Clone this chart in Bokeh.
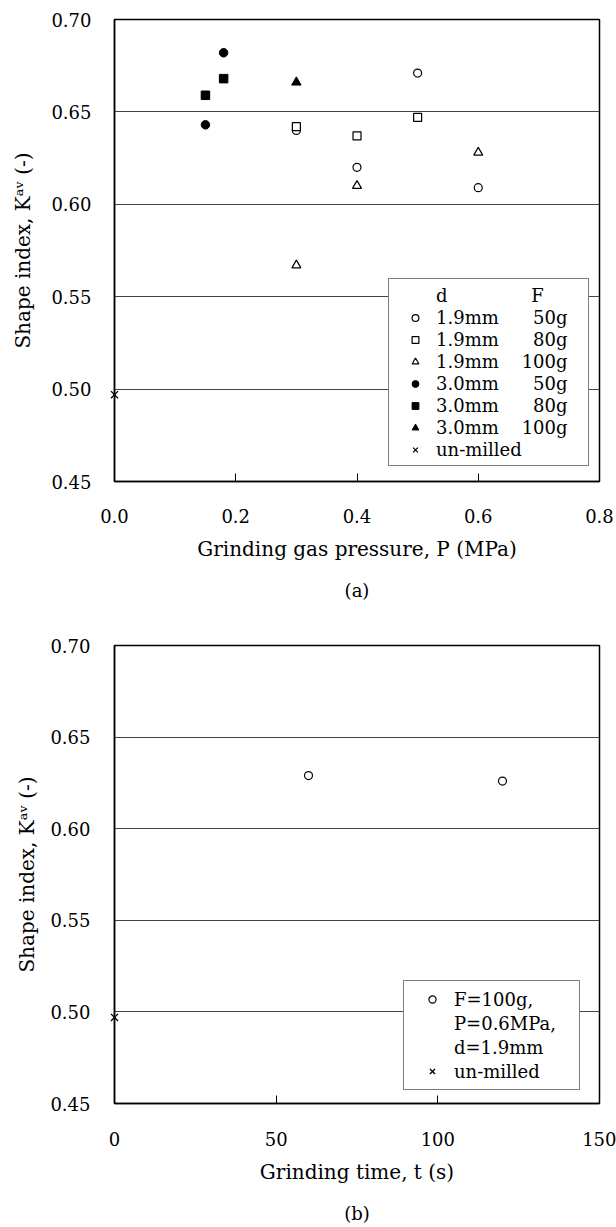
from bokeh.plotting import figure
from bokeh.models import FixedTicker, Legend, LegendItem, Title, Range1d
from bokeh.layouts import column
from bokeh.embed import file_html
from bokeh.resources import INLINE

FONT = "DejaVu Serif"
NB = "\u00a0"
FS = "\u2007"
TAIL = NB * 2 + "\u2009"

# ---------------- data (a) ----------------
p_19_50 = [0.3, 0.4, 0.5, 0.6]
k_19_50 = [0.640, 0.620, 0.671, 0.609]
p_19_80 = [0.3, 0.4, 0.5]
k_19_80 = [0.642, 0.637, 0.647]
p_19_100 = [0.3, 0.4, 0.6]
k_19_100 = [0.567, 0.610, 0.628]
p_30_50 = [0.15, 0.18]
k_30_50 = [0.643, 0.682]
p_30_80 = [0.15, 0.18]
k_30_80 = [0.659, 0.668]
p_30_100 = [0.30]
k_30_100 = [0.666]
p_unmilled = [0.0]
k_unmilled = [0.497]

# ---------------- data (b) ----------------
t_milled = [60, 120]
k_milled = [0.629, 0.626]
t_unmilled = [0]
k_unmilled_b = [0.497]

y_ticks = [0.45, 0.50, 0.55, 0.60, 0.65, 0.70]
y_tick_labels = ["0.45", "0.50", "0.55", "0.60", "0.65", "0.70"]
xa_ticks = [0.0, 0.2, 0.4, 0.6, 0.8]
xa_tick_labels = ["0.0", "0.2", "0.4", "0.6", "0.8"]
xb_ticks = [0, 50, 100, 150]
xb_tick_labels = ["0", "50", "100", "150"]

legend_a_labels = [
    "d" + NB * 14 + "\u2009" + "F" + TAIL,
    "1.9mm" + NB * 4 + FS + "50g" + TAIL,
    "1.9mm" + NB * 4 + FS + "80g" + TAIL,
    "1.9mm" + NB * 4 + "100g" + TAIL,
    "3.0mm" + NB * 4 + FS + "50g" + TAIL,
    "3.0mm" + NB * 4 + FS + "80g" + TAIL,
    "3.0mm" + NB * 4 + "100g" + TAIL,
    "un-milled" + TAIL,
]
legend_b_labels = ["F=100g,", "P=0.6MPa," + NB * 3, "d=1.9mm", "un-milled"]


def style(p, xticks, xlabels, xlabel, ylabel_standoff, xlabel_standoff, ytick_standoff):
    p.background_fill_color = "white"
    p.border_fill_color = "white"
    p.outline_line_color = "black"
    p.outline_line_width = 1.5
    p.xgrid.visible = False
    p.ygrid.ticker = FixedTicker(ticks=y_ticks)
    p.ygrid.grid_line_color = "#444444"
    p.ygrid.grid_line_width = 1
    for ax in (p.xaxis[0], p.yaxis[0]):
        ax.axis_line_color = "black"
        ax.axis_line_width = 1.5
        ax.major_label_text_font = FONT
        ax.major_label_text_font_size = "18px"
        ax.major_label_text_color = "black"
        ax.axis_label_text_font = FONT
        ax.axis_label_text_font_size = "20px"
        ax.axis_label_text_font_style = "normal"
        ax.axis_label_text_color = "black"
        ax.minor_tick_line_color = None
    xa = p.xaxis[0]
    xa.ticker = FixedTicker(ticks=xticks)
    xa.major_label_overrides = {t: l for t, l in zip(xticks, xlabels)}
    xa.major_tick_in = 8
    xa.major_tick_out = 0
    xa.major_tick_line_color = "black"
    xa.major_tick_line_width = 1
    xa.major_label_standoff = xlabel_standoff
    xa.axis_label = xlabel
    xa.axis_label_standoff = 11
    ya = p.yaxis[0]
    ya.ticker = FixedTicker(ticks=y_ticks)
    ya.major_label_overrides = {t: l for t, l in zip(y_ticks, y_tick_labels)}
    ya.major_tick_in = 0
    ya.major_tick_out = 0
    ya.major_label_standoff = ytick_standoff
    ya.axis_label = "Shape index, K\u1d43\u1d5b (-)"
    ya.axis_label_standoff = ylabel_standoff


# ---------------- figure (a) ----------------
pa = figure(frame_width=485, frame_height=462, min_border_left=111, min_border_right=20,
            min_border_top=19, min_border_bottom=124,
            x_range=Range1d(0, 0.8), y_range=Range1d(0.45, 0.70),
            output_backend="svg", toolbar_location=None)
style(pa, xa_ticks, xa_tick_labels, "Grinding gas pressure, P (MPa)", 13, 27, 23)

hdr = pa.scatter(x=[], y=[], marker="circle", size=0, fill_alpha=0, line_alpha=0)
r1 = pa.scatter(p_19_50, k_19_50, marker="circle", size=8, fill_color="white", line_color="black", line_width=1.2)
r2 = pa.scatter(p_19_80, k_19_80, marker="square", size=8, fill_color="white", line_color="black", line_width=1.2)
r3 = pa.scatter(p_19_100, k_19_100, marker="triangle", size=9, fill_color="white", line_color="black", line_width=1.2)
r4 = pa.scatter(p_30_50, k_30_50, marker="circle", size=8.5, fill_color="black", line_color="black")
r5 = pa.scatter(p_30_80, k_30_80, marker="square", size=8.5, fill_color="black", line_color="black")
r6 = pa.scatter(p_30_100, k_30_100, marker="triangle", size=9.5, fill_color="black", line_color="black")
r7 = pa.scatter(p_unmilled, k_unmilled, marker="x", size=10, line_color="black", line_width=1.3,
                level="overlay")

leg_a = Legend(items=[LegendItem(label=l, renderers=[r]) for l, r in
                      zip(legend_a_labels, [hdr, r1, r2, r3, r4, r5, r6, r7])],
               location=(274, 15), padding=5, spacing=0, label_height=22,
               glyph_height=17, glyph_width=42, label_standoff=0,
               label_text_font=FONT, label_text_font_size="18px", label_text_color="black",
               border_line_color="black", border_line_width=1, background_fill_alpha=1,
               margin=0)
pa.add_layout(leg_a)
pa.add_layout(Title(text="(a)", align="center", text_font=FONT, text_font_size="18px",
                    text_font_style="normal", text_color="black", standoff=29), "below")

# ---------------- figure (b) ----------------
pb = figure(frame_width=485, frame_height=458, min_border_left=114, min_border_right=17,
            min_border_top=30, min_border_bottom=110,
            x_range=Range1d(0, 150), y_range=Range1d(0.45, 0.70),
            output_backend="svg", toolbar_location=None)
style(pb, xb_ticks, xb_tick_labels, "Grinding time, t (s)", 8, 28, 24)

s1 = pb.scatter(t_milled, k_milled, marker="circle", size=8, fill_color="white", line_color="black", line_width=1.2)
e1 = pb.scatter(x=[], y=[], marker="circle", size=0, fill_alpha=0, line_alpha=0)
e2 = pb.scatter(x=[], y=[], marker="circle", size=0, fill_alpha=0, line_alpha=0)
s2 = pb.scatter(t_unmilled, k_unmilled_b, marker="x", size=10, line_color="black", line_width=1.3,
                level="overlay")

leg_b = Legend(items=[LegendItem(label=l, renderers=[r]) for l, r in
                      zip(legend_b_labels, [s1, e1, e2, s2])],
               location=(289, 13), padding=6, spacing=0, label_height=24,
               glyph_height=18, glyph_width=44, label_standoff=0,
               label_text_font=FONT, label_text_font_size="18px", label_text_color="black",
               border_line_color="black", border_line_width=1, background_fill_alpha=1,
               margin=0)
pb.add_layout(leg_b)
pb.add_layout(Title(text="(b)", align="center", text_font=FONT, text_font_size="18px",
                    text_font_style="normal", text_color="black", standoff=29), "below")

layout = column(pa, pb, spacing=0)
open("out.html", "w").write(file_html(layout, INLINE))
